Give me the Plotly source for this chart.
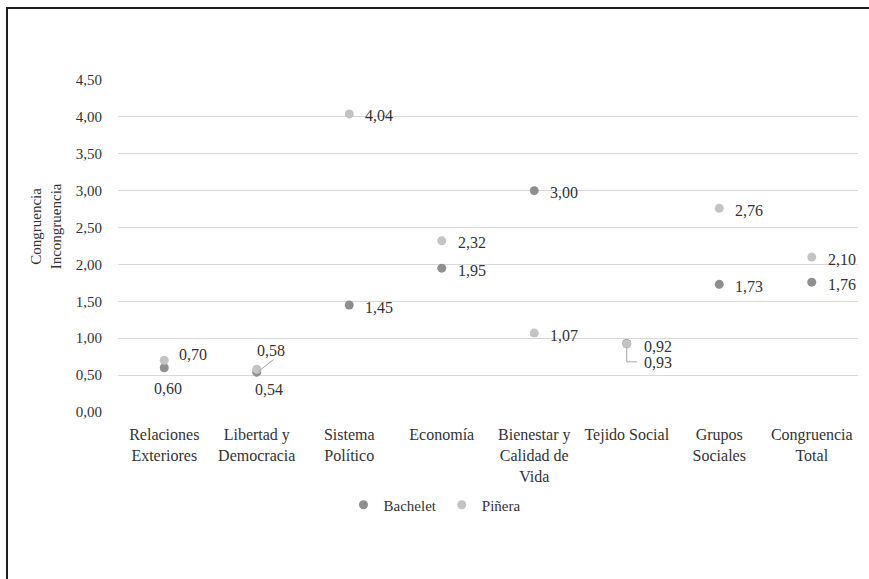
import plotly.graph_objects as go

# Dimensions and series values
categories = [
    "Relaciones<br>Exteriores",
    "Libertad y<br>Democracia",
    "Sistema<br>Político",
    "Economía",
    "Bienestar y<br>Calidad de<br>Vida",
    "Tejido Social",
    "Grupos<br>Sociales",
    "Congruencia<br>Total",
]
bachelet = [0.60, 0.54, 1.45, 1.95, 3.00, 0.93, 1.73, 1.76]
pinera = [0.70, 0.58, 4.04, 2.32, 1.07, 0.92, 2.76, 2.10]
y_ticks = [0.0, 0.5, 1.0, 1.5, 2.0, 2.5, 3.0, 3.5, 4.0, 4.5]

COLOR_B = "#8f8f8f"
COLOR_P = "#c4c4c4"
LEADER = "#a6a6a6"
TEXT = "#333333"
FONT = "Times New Roman"

# Label placement (anchor, x shift px, y shift px) per point
bachelet_label_pos = [
    ("center", 4, -21), ("center", 12, -17), ("left", 14, -2), ("left", 14, -2),
    ("left", 14, -2), ("left", 15, -19), ("left", 14, -2), ("left", 14, -2),
]
pinera_label_pos = [
    ("left", 13, 6), ("center", 14, 19), ("left", 14, -2), ("left", 14, -2),
    ("left", 14, -2), ("left", 15, -2), ("left", 14, -2), ("left", 14, -2),
]


def fmt(v):
    return f"{v:.2f}".replace(".", ",")


fig = go.Figure()
fig.add_trace(go.Scatter(
    x=categories, y=bachelet, mode="markers", name="Bachelet",
    marker=dict(color=COLOR_B, size=9),
))
fig.add_trace(go.Scatter(
    x=categories, y=pinera, mode="markers", name="Piñera",
    marker=dict(color=COLOR_P, size=9),
))

# Leader lines drawn on an overlaid numeric x axis (category index units)
lib_i, tej_i = 1, 5
fig.add_trace(go.Scatter(
    x=[lib_i + 0.02, lib_i + 0.18], y=[pinera[lib_i] - 0.03, pinera[lib_i] + 0.13],
    xaxis="x2", yaxis="y", mode="lines", line=dict(color=LEADER, width=1),
    showlegend=False, hoverinfo="skip",
))
fig.add_trace(go.Scatter(
    x=[tej_i, tej_i, tej_i + 0.11],
    y=[pinera[tej_i] - 0.04, pinera[tej_i] - 0.24, pinera[tej_i] - 0.24],
    xaxis="x2", yaxis="y", mode="lines", line=dict(color=LEADER, width=1),
    showlegend=False, hoverinfo="skip",
))

for vals, pos in ((bachelet, bachelet_label_pos), (pinera, pinera_label_pos)):
    for cat, v, (anchor, dx, dy) in zip(categories, vals, pos):
        fig.add_annotation(
            x=cat, y=v, text=fmt(v), showarrow=False,
            xanchor=anchor, yanchor="middle", xshift=dx, yshift=dy,
            font=dict(family=FONT, size=16, color=TEXT),
        )

# Rotated two-line axis title
fig.add_annotation(
    x=-0.097, y=0.56, xref="paper", yref="paper",
    text="Congruencia<br>Incongruencia", textangle=-90, showarrow=False,
    xanchor="center", yanchor="middle",
    font=dict(family=FONT, size=15, color=TEXT),
)

# Outer frame (only its top and left edges fall inside the page)
fig.add_annotation(
    x=(6 - 118) / 740, y=(412 - 7) / 332, xref="paper", yref="paper",
    xanchor="left", yanchor="top", width=1000, height=700,
    text=" ", showarrow=False, borderpad=0,
    bordercolor="#1f1f1f", borderwidth=2,
)

fig.update_layout(
    width=869, height=579,
    margin=dict(l=118, r=11, t=80, b=167, autoexpand=False),
    plot_bgcolor="white",
    font=dict(family=FONT, size=16, color=TEXT),
    showlegend=True,
    legend=dict(
        orientation="h",
        x=(434.5 - 118) / 740, xanchor="center", y=(412 - 505) / 332, yanchor="middle",
        font=dict(family=FONT, size=15, color=TEXT),
    ),
    xaxis2=dict(overlaying="x", anchor="y", range=[-0.5, 7.5], visible=False),
)
fig.update_xaxes(
    selector=dict(anchor="y"), type="category",
)
fig.update_layout(xaxis=dict(
    type="category", range=[-0.5, 7.5], showgrid=False, zeroline=False,
    showline=False, ticks="outside", ticklen=8, tickcolor="white", tickangle=0,
    tickfont=dict(family=FONT, size=16, color=TEXT),
))
fig.update_layout(xaxis2=dict(type="linear"))
fig.update_yaxes(
    range=[0, 4.5], tickvals=y_ticks, ticktext=[fmt(t) for t in y_ticks],
    showgrid=True, gridcolor="#d9d9d9", gridwidth=1,
    zeroline=False, showline=False, ticks="outside", ticklen=12, tickcolor="white",
    tickfont=dict(family=FONT, size=15, color=TEXT),
)

fig.write_html("out.html")
